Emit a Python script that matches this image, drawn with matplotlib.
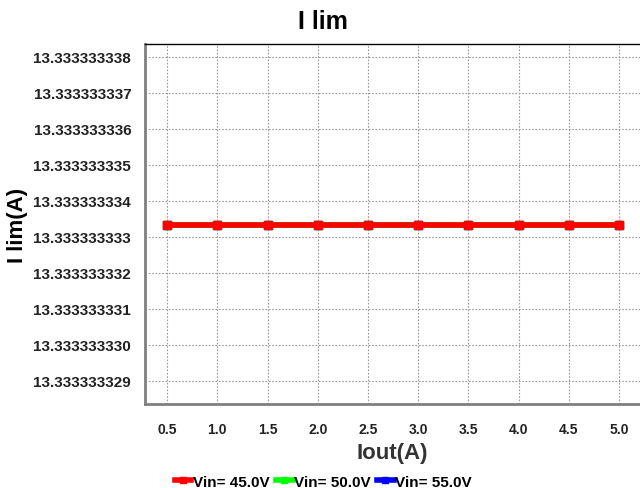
import matplotlib
matplotlib.use("Agg")
import matplotlib.pyplot as plt
from matplotlib.ticker import FixedLocator, FuncFormatter

plt.rcParams['font.family'] = ['Liberation Sans', 'DejaVu Sans']

iout = [0.5, 1.0, 1.5, 2.0, 2.5, 3.0, 3.5, 4.0, 4.5, 5.0]
ilim_45 = [40 / 3] * 10
ilim_50 = [40 / 3] * 10
ilim_55 = [40 / 3] * 10
series_names = ["Vin= 45.0V", "Vin= 50.0V", "Vin= 55.0V"]
series_colors = ["#ff0000", "#00ff00", "#0000ff"]
ytick_vals = [13.333333329 + k * 1e-9 for k in range(10)]

fig = plt.figure(figsize=(6.4, 4.89), dpi=100)
ax = fig.add_axes([0.2266, 0.1718, 0.7734, 0.7362])

# blue and green go down first so the red curve sits on top
data = [ilim_45, ilim_50, ilim_55]
handles = {}
for i in [2, 1, 0]:
    h, = ax.plot(iout, data[i], color=series_colors[i], lw=4, marker='s',
                 markersize=6, markeredgecolor=series_colors[i],
                 label=series_names[i], zorder=3 + (2 - i))
    handles[i] = h

ax.set_xlim(0.28, 5.21)
ax.set_ylim(13.33333332836, 13.33333333836)
ax.xaxis.set_major_locator(FixedLocator(iout))
ax.yaxis.set_major_locator(FixedLocator(ytick_vals))
ax.xaxis.set_major_formatter(FuncFormatter(lambda v, p: f"{v:.1f}"))
ax.yaxis.set_major_formatter(FuncFormatter(lambda v, p: f"{v:.9f}"))
ax.tick_params(length=0)
ax.tick_params(axis='y', labelsize=11, pad=10)
ax.tick_params(axis='x', labelsize=10, pad=13)
for lab in ax.get_xticklabels() + ax.get_yticklabels():
    lab.set_fontweight('bold')
    lab.set_color('#222222')

ax.grid(True, color='#999999', linestyle=(0, (1.5, 1.5)), linewidth=0.8)
ax.spines['left'].set_color('#808080')
ax.spines['left'].set_linewidth(2)
ax.spines['bottom'].set_color('#808080')
ax.spines['bottom'].set_linewidth(2)
ax.spines['top'].set_color('black')
ax.spines['top'].set_linewidth(1)
ax.spines['right'].set_visible(False)

fig.text(0.505, 0.955, "I lim", ha='center', va='center',
         fontsize=18, fontweight='bold')
ax.set_xlabel("Iout(A)", fontsize=16, fontweight='bold', color='#333333', labelpad=4)
ax.set_ylabel("I lim(A)", fontsize=16, fontweight='bold', va='center')
ax.yaxis.set_label_coords(-0.257, 0.5)

fig.legend([handles[0], handles[1], handles[2]], series_names,
           loc='center', bbox_to_anchor=(0.505, 0.013), ncol=3,
           frameon=False, prop={'weight': 'bold', 'size': 11},
           handlelength=1.1, handletextpad=0.1, columnspacing=0.4,
           markerscale=0.7)

fig.savefig("out.png", dpi=100)
